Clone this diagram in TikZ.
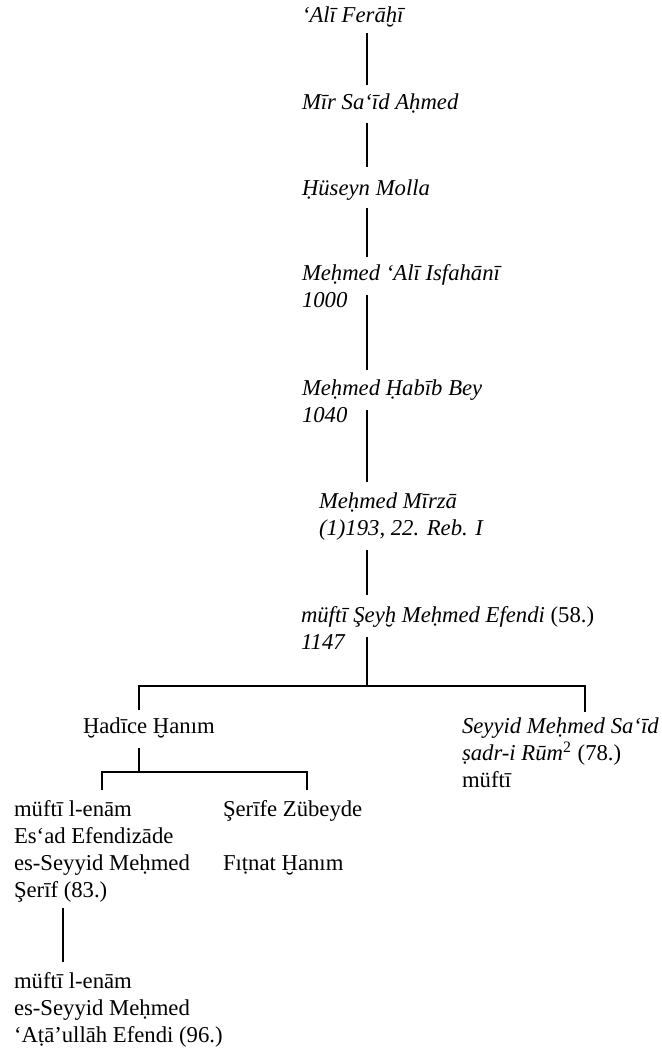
\documentclass[tikz,border=0pt]{standalone}
\usepackage{fontspec}
\setmainfont{Liberation Serif}
\usetikzlibrary{calc}

\newcommand\fs{\fontsize{11.35pt}{13.5pt}\selectfont}

\tikzset{
  lbl/.style={anchor=north west, inner sep=0pt, outer sep=0pt, align=left, font=\fs},
  itl/.style={lbl, font=\fs\itshape},
  link/.style={line width=0.7pt, line cap=butt},
}

\begin{document}
\begin{tikzpicture}[x=0.5pt, y=-0.5pt]
  \path[fill=white, use as bounding box] (0,0) rectangle (661,1054);

  % columns of the vertical connectors
  \coordinate (col) at (367,0);
  \coordinate (lcol) at (139,0);
  \coordinate (rcol) at (585,0);
  \coordinate (scol) at (63,0);
  \coordinate (j1) at (367,686);
  \coordinate (j2) at (139,772);

  % the male line
  \node[itl] (ali)   at (302,4.1)   {\strut‘Alī Ferāḫī};
  \node[itl] (mir)   at (302,91.1)  {\strut Mīr Sa‘īd Aḥmed};
  \node[itl] (hus)   at (302,176.1) {\strut Ḥüseyn Molla};
  \node[itl] (isf)   at (302,261.1) {\strut Meḥmed ‘Alī Isfahānī\\1000\strut};
  \node[itl] (hab)   at (302,376.1) {\strut Meḥmed Ḥabīb Bey\\1040\strut};
  \node[itl] (mirza) at (319,489.1) {\strut Meḥmed Mīrzā\\(1)193, 22. Reb. I\strut};
  \node[itl] (seyh)  at (301,603.1) {\strut müftī Şeyḫ Meḥmed Efendi {\upshape(58.)}\\1147\strut};

  % children and grandchildren
  \node[lbl] (hadice) at (83,714.1)  {\strut Ḫadīce Ḫanım};
  \node[itl] (said)   at (462,714.1) {\strut Seyyid Meḥmed Sa‘īd\\ṣadr-i Rūm{\upshape\textsuperscript{2} (78.)}\\{\upshape müftī}\strut};
  \node[lbl] (serif)  at (14,797.1)  {\strut müftī l-enām\\Es‘ad Efendizāde\\es-Seyyid Meḥmed\\Şerīf (83.)\strut};
  \node[lbl] (zub)    at (223,797.1) {\strut Şerīfe Zübeyde};
  \node[lbl] (fit)    at (223,851.1) {\strut Fıṭnat Ḫanım};
  \node[lbl] (ata)    at (14,969.1)  {\strut müftī l-enām\\es-Seyyid Meḥmed\\‘Aṭā’ullāh Efendi (96.)\strut};

  % descent lines
  \draw[link] ($(ali.south -| col)+(0,2)$)   -- ($(mir.north -| col)+(0,-6)$);
  \draw[link] ($(mir.south -| col)+(0,5)$)   -- ($(hus.north -| col)+(0,-9)$);
  \draw[link] ($(hus.south -| col)+(0,5)$)   -- ($(isf.north -| col)+(0,-4)$);
  \draw[link] ($(isf.north -| col)+(0,34)$)  -- ($(hab.north -| col)+(0,-6)$);
  \draw[link] ($(hab.north -| col)+(0,34)$)  -- ($(mirza.north -| col)+(0,-7)$);
  \draw[link] ($(mirza.south -| col)+(0,7)$) -- ($(seyh.north -| col)+(0,-8)$);
  \draw[link] ($(seyh.north -| col)+(0,34)$) -- (j1);
  \draw[link] ($(hadice.north -| lcol)+(0,-4)$) |- (j1) -| ($(said.north -| rcol)+(0,-2)$);
  \draw[link] ($(hadice.south -| lcol)+(0,7)$) -- (j2);
  \draw[link] ($(serif.north)+(0,-7)$ -| 66,0) |- (j2) -| ($(zub.north -| 307,0)+(0,-7)$);
  \draw[link] ($(serif.south -| scol)+(0,3)$) -- ($(ata.north -| scol)+(0,-7)$);
\end{tikzpicture}
\end{document}
